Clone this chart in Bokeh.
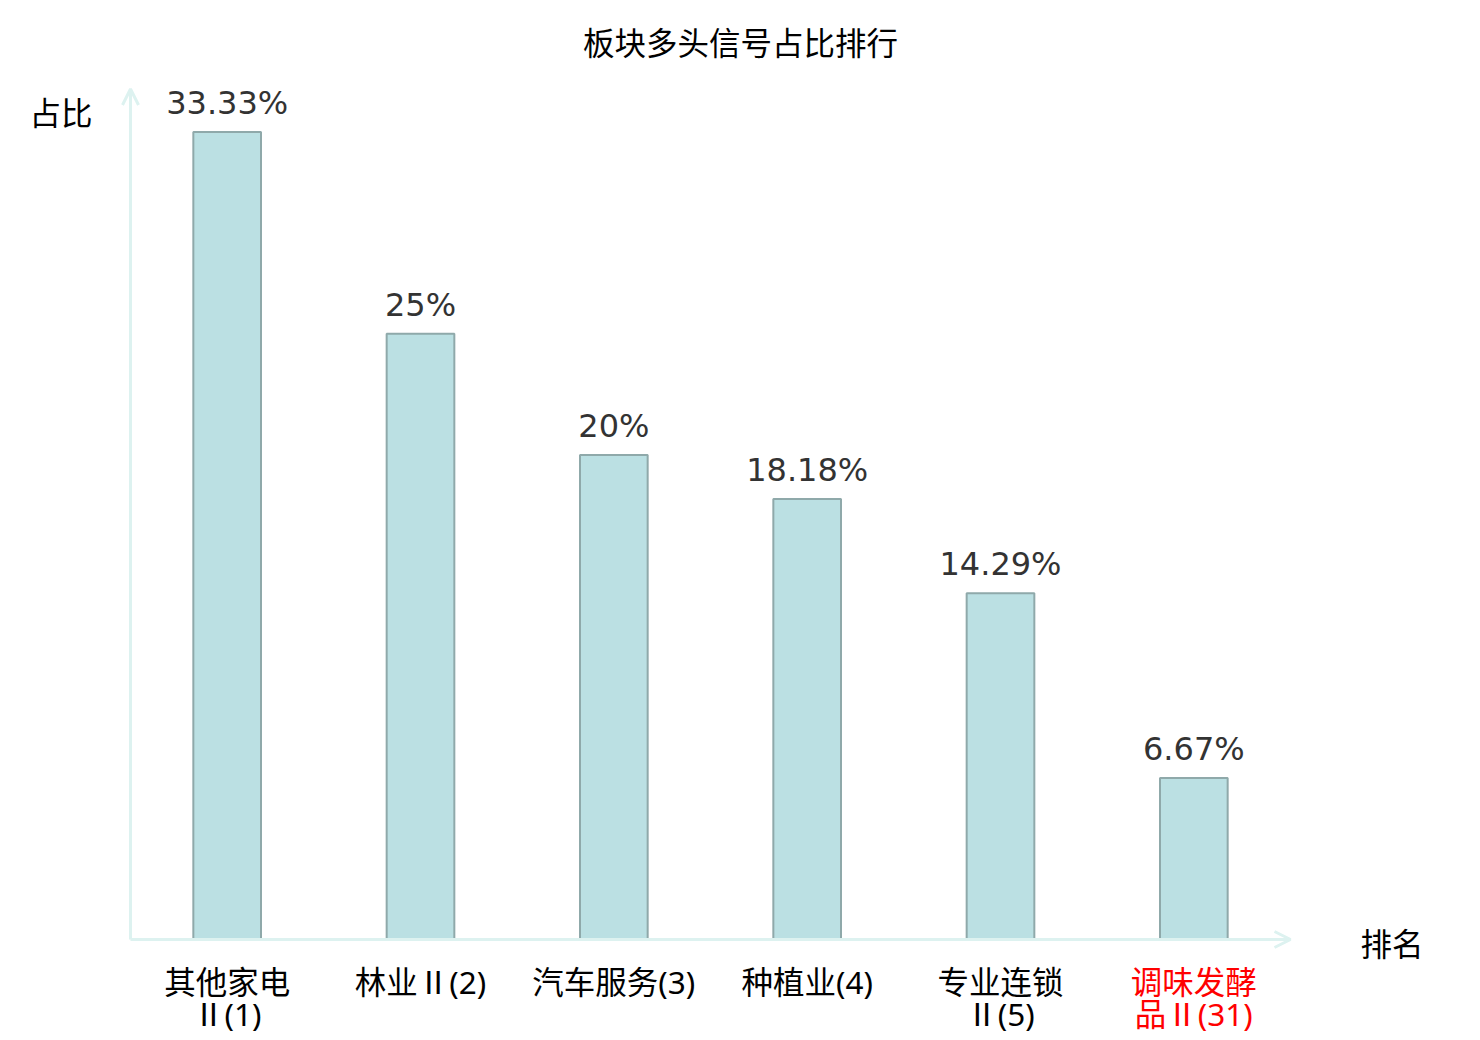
from bokeh.plotting import figure
from bokeh.models import ColumnDataSource, LabelSet, Label, Arrow, OpenHead, Range1d
from bokeh.core.properties import value
from bokeh.embed import file_html
from bokeh.resources import INLINE

# ---- data ----
title_text = "板块多头信号占比排行"
categories = ["其他家电Ⅱ(1)", "林业Ⅱ(2)", "汽车服务(3)", "种植业(4)", "专业连锁Ⅱ(5)", "调味发酵品Ⅱ(31)"]
tick_line1 = ["其他家电", "林业Ⅱ(2)", "汽车服务(3)", "种植业(4)", "专业连锁", "调味发酵"]
tick_line2 = ["Ⅱ(1)", "", "", "", "Ⅱ(5)", "品Ⅱ(31)"]
shares = [33.33, 25, 20, 18.18, 14.29, 6.67]
highlighted = "调味发酵品Ⅱ(31)"
y_name = "占比"
x_name = "排名"
y_max = 35.1

CJK_NAME = "Noto Sans CJK SC"
CJK = value(CJK_NAME)
TICK_FONT = value("Noto Sans, Noto Sans CJK SC")
LAT = value("DejaVu Sans")
CJK_SIZE = "31.5px"

# ---- layout (pixels) ----
W, H = 1476, 1036
PLOT_L, PLOT_R, PLOT_B = 130, 1290, 939
PX_PER_UNIT_Y = 24.23

n = len(categories)
px_x = (PLOT_R - PLOT_L) / n
x_range = Range1d(-PLOT_L / px_x, n + (W - PLOT_R) / px_x)
y_range = Range1d(-(H - PLOT_B) / PX_PER_UNIT_Y, PLOT_B / PX_PER_UNIT_Y)

xs = [i + 0.5 for i in range(n)]
src = ColumnDataSource(dict(
    x=xs,
    top=shares,
    label=[f"{v:g}%" for v in shares],
    t1=tick_line1,
    t2=tick_line2,
    zero=[0] * n,
    tcolor=["#ff0000" if c == highlighted else "#000000" for c in categories],
))

p = figure(width=W, height=H, output_backend="svg", toolbar_location=None,
           x_range=x_range, y_range=y_range,
           min_border_left=0, min_border_right=0, min_border_top=0, min_border_bottom=0)
p.xaxis.visible = False
p.yaxis.visible = False
p.xgrid.grid_line_color = None
p.ygrid.grid_line_color = None
p.outline_line_color = None
p.background_fill_color = "white"
p.border_fill_color = "white"

p.vbar(x="x", top="top", bottom=0, width=0.35, source=src,
       fill_color="#bbe0e3", line_color="#8fa9aa", line_width=2)

axis_color = "#ddf2f0"
p.add_layout(Arrow(x_start=0, y_start=0, x_end=n, y_end=0, line_color=axis_color, line_width=3,
                   end=OpenHead(size=16, line_color=axis_color, line_width=3)))
p.add_layout(Arrow(x_start=0, y_start=0, x_end=0, y_end=y_max, line_color=axis_color, line_width=3,
                   end=OpenHead(size=16, line_color=axis_color, line_width=3)))

p.add_layout(LabelSet(x="x", y="top", text="label", source=src, y_offset=18,
                      text_align="center", text_baseline="alphabetic",
                      text_font=LAT, text_font_size="32px", text_color="#333333"))
p.add_layout(LabelSet(x="x", y="zero", text="t1", source=src, y_offset=-54,
                      text_align="center", text_baseline="alphabetic",
                      text_font=TICK_FONT, text_font_size=CJK_SIZE, text_color="tcolor"))
p.add_layout(LabelSet(x="x", y="zero", text="t2", source=src, y_offset=-86,
                      text_align="center", text_baseline="alphabetic",
                      text_font=TICK_FONT, text_font_size=CJK_SIZE, text_color="tcolor"))

p.add_layout(Label(x=0, y=0, text=y_name, x_offset=-38, y_offset=PLOT_B - 110,
                   text_align="right", text_baseline="middle",
                   text_font=CJK_NAME, text_font_size=CJK_SIZE, text_color="#000000"))
p.add_layout(Label(x=n, y=0, text=x_name, x_offset=70, y_offset=-2,
                   text_align="left", text_baseline="middle",
                   text_font=CJK_NAME, text_font_size=CJK_SIZE, text_color="#000000"))
p.add_layout(Label(x=n / 2, y=0, text=title_text, x_offset=740 - (PLOT_L + PLOT_R) / 2,
                   y_offset=PLOT_B - 40,
                   text_align="center", text_baseline="middle",
                   text_font=CJK_NAME, text_font_size=CJK_SIZE, text_color="#000000"))

open("out.html", "w").write(file_html(p, INLINE))
